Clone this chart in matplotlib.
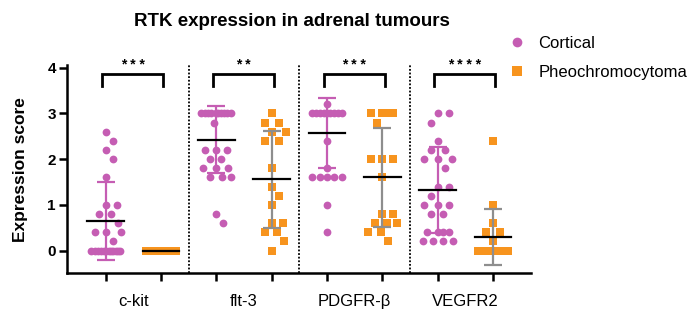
import numpy as np
import matplotlib
matplotlib.use("Agg")
import matplotlib.pyplot as plt
from matplotlib.lines import Line2D

plt.rcParams['font.family'] = ['Liberation Sans', 'DejaVu Sans']

pink = "#C55DB3"
orange = "#F7941E"
grey = "#8E8E8E"

genes = ["c-kit", "flt-3", "PDGFR-β", "VEGFR2"]
stars = ["* * *", "* *", "* * *", "* * * *"]

# expression scores (cortical / pheochromocytoma)
cortical = [
    [2.6, 2.4, 2.2, 2.0, 1.6, 1.0, 1.0, 0.8, 0.8, 0.6, 0.4, 0.4, 0.4, 0.2] + [0.0] * 12,
    [3.0] * 10 + [2.8, 2.2, 2.2, 2.2, 2.0, 2.0, 1.8, 1.8, 1.8, 1.6, 1.6, 1.6, 0.8, 0.6],
    [3.2] + [3.0] * 9 + [2.4, 1.8, 1.6, 1.6, 1.6, 1.6, 1.6, 1.0, 0.4],
    [3.0, 3.0, 2.8, 2.4, 2.2, 2.2, 2.0, 2.0, 2.0, 1.8, 1.4, 1.4, 1.2, 1.0, 1.0, 1.0,
     0.8, 0.8, 0.4, 0.4, 0.4, 0.4, 0.2, 0.2, 0.2, 0.2],
]
pheo = [
    [0.0] * 17,
    [3.0, 2.8, 2.8, 2.6, 2.6, 2.4, 2.4, 1.8, 1.4, 1.2, 1.0, 0.6, 0.6, 0.4, 0.4, 0.2, 0.0],
    [3.0, 3.0, 3.0, 3.0, 2.8, 2.0, 2.0, 2.0, 1.6, 0.8, 0.8, 0.6, 0.6, 0.6, 0.4, 0.4, 0.2],
    [2.4, 1.0, 0.6, 0.4, 0.4, 0.2] + [0.0] * 11,
]
# mean and SD as drawn in the figure
cortical_mean = [0.64, 2.42, 2.57, 1.33]
cortical_sd = [0.85, 0.73, 0.77, 0.94]
pheo_mean = [0.0, 1.56, 1.60, 0.30]
pheo_sd = [0.0, 1.06, 1.09, 0.61]

# pixel scale of the axes (used for the swarm layout)
px_per_x = 55.3
px_per_y = 45.75


def swarm_offsets(values, dist=11.0, half_width=15.0):
    # place points one by one (top to bottom), nearest to the centre without
    # clashing; when the row is full pick the least crowded slot
    values = np.asarray(values, dtype=float)
    order = np.argsort(-values, kind="stable")
    placed = []
    offs = np.zeros(len(values))
    cands = [0.0]
    for k in np.arange(1, half_width + 0.01, 1.0):
        cands += [k, -k]
    for i in order:
        y = values[i] * px_per_y
        best, best_d = 0.0, -1.0
        for c in cands:
            if placed:
                d = min(np.hypot(c - px, y - py) for px, py in placed)
            else:
                d = np.inf
            if d >= dist:
                best = c
                break
            if d > best_d:
                best, best_d = c, d
        placed.append((best, y))
        offs[i] = best / px_per_x
    return offs


def draw_group(ax, pos, vals, mean, sd, color, marker, barcolor):
    x = pos + swarm_offsets(vals)
    ax.plot(x, vals, linestyle="none", marker=marker, color=color,
            markersize=5.6 if marker == "o" else 5.2, markeredgewidth=0, zorder=2)
    if sd > 0:
        ax.errorbar([pos], [mean], yerr=[sd], fmt="none", ecolor=barcolor,
                    elinewidth=1.6, capsize=6.5, capthick=1.6, zorder=3)
    ax.plot([pos - 0.33, pos + 0.33], [mean, mean], color="black", lw=1.6, zorder=4)


fig = plt.figure(figsize=(7, 3.25), dpi=100)
ax = fig.add_axes([0.0957, 0.16, 0.663, 0.639])

for i in range(len(genes)):
    draw_group(ax, 2 * i, cortical[i], cortical_mean[i], cortical_sd[i], pink, "o", pink)
    draw_group(ax, 2 * i + 1, pheo[i], pheo_mean[i], pheo_sd[i], orange, "s", grey)
    # significance bracket
    x0, x1 = 2 * i - 0.06, 2 * i + 1.04
    ax.plot([x0, x0, x1, x1], [3.59, 3.86, 3.86, 3.59], color="black", lw=2.0,
            solid_joinstyle="miter", zorder=5)
    ax.text((x0 + x1) / 2, 3.9, stars[i], ha="center", va="bottom",
            fontsize=10, fontweight="bold")
    if i > 0:
        ax.axvline(2 * i - 0.5, color="black", lw=1.3, linestyle=(0, (1, 1)), zorder=1)

ax.set_xlim(-0.7, 7.69)
ax.set_ylim(-0.49, 4.05)
ax.set_yticks(range(5))
ax.set_yticklabels([str(v) for v in range(5)], fontweight="bold", fontsize=11)
ax.set_xticks(range(8))
ax.set_xticklabels([])
ax.set_xticks([0.5, 2.5, 4.5, 6.5], minor=True)
ax.set_xticklabels(genes, minor=True, fontsize=12)
ax.tick_params(axis="both", which="major", length=6, width=1.8, direction="out")
ax.tick_params(axis="y", pad=2)
ax.tick_params(axis="x", which="minor", length=0, pad=15)
for s in ["top", "right"]:
    ax.spines[s].set_visible(False)
for s in ["left", "bottom"]:
    ax.spines[s].set_linewidth(1.8)

ax.set_ylabel("Expression score", fontsize=12.5, fontweight="bold", labelpad=14)
fig.text(0.417, 0.935, "RTK expression in adrenal tumours", ha="center", va="center",
         fontsize=13.5, fontweight="bold")

handles = [
    Line2D([], [], linestyle="none", marker="o", color=pink, markersize=7, markeredgewidth=0),
    Line2D([], [], linestyle="none", marker="s", color=orange, markersize=7, markeredgewidth=0),
]
ax.legend(handles, ["Cortical", "Pheochromocytoma"], loc="upper left",
          bbox_to_anchor=(0.717, 0.91), bbox_transform=fig.transFigure,
          frameon=False, fontsize=12, handlelength=1.0, handletextpad=0.8,
          labelspacing=0.85, borderaxespad=0)

fig.savefig("out.png", dpi=100)
